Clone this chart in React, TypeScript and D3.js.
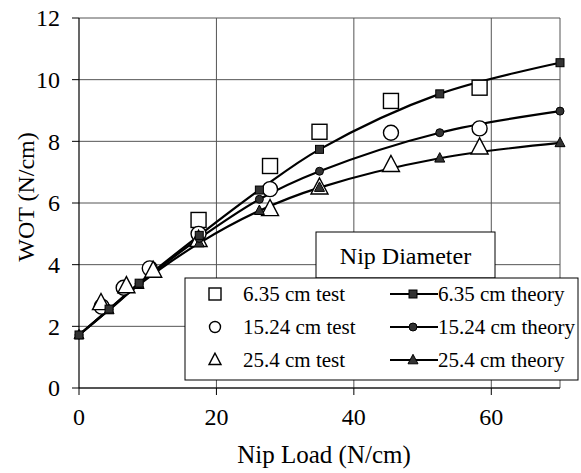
import * as d3 from 'd3';

const theoryX = [0, 4.375, 8.75, 17.5, 26.25, 35, 52.5, 70];
const theory635 = [1.72, 2.56, 3.4, 4.95, 6.42, 7.74, 9.54, 10.55];
const theory1524 = [1.72, 2.55, 3.38, 4.85, 6.12, 7.03, 8.28, 8.98];
const theory254 = [1.72, 2.53, 3.35, 4.7, 5.75, 6.5, 7.45, 7.95];

const test635X = [17.4, 27.8, 35, 45.4, 58.3];
const test635 = [5.45, 7.2, 8.31, 9.31, 9.74];
const test1524X = [3.3, 6.5, 10.3, 17.4, 27.8, 45.4, 58.3];
const test1524 = [2.64, 3.25, 3.88, 5.0, 6.45, 8.28, 8.42];
const test254X = [3.2, 6.9, 10.8, 17.4, 27.8, 35, 45.4, 58.3];
const test254 = [2.75, 3.3, 3.8, 4.8, 5.8, 6.5, 7.23, 7.8];

const xTicks = [0, 20, 40, 60];
const yTicks = [0, 2, 4, 6, 8, 10, 12];
const legendTest = ['6.35 cm test', '15.24 cm test', '25.4 cm test'];
const legendTheory = ['6.35 cm theory', '15.24 cm theory', '25.4 cm theory'];

const W = 581;
const H = 473;
const m = { left: 79, right: 21, top: 18, bottom: 85 };
const font = "'Liberation Serif', 'Times New Roman', Times, 'DejaVu Serif', serif";

const x = d3.scaleLinear().domain([0, 70]).range([m.left, W - m.right]);
const y = d3.scaleLinear().domain([0, 12]).range([H - m.bottom, m.top]);

type Shape = 'square' | 'circle' | 'triangle';

const Marker = ({ shape, cx, cy, size, filled }: { shape: Shape; cx: number; cy: number; size: number; filled: boolean }) => {
  const fill = filled ? '#333' : '#fff';
  const sw = filled ? 1 : 1.4;
  if (shape === 'square')
    return <rect x={cx - size / 2} y={cy - size / 2} width={size} height={size} fill={fill} stroke="#000" strokeWidth={sw} />;
  if (shape === 'circle') return <circle cx={cx} cy={cy} r={size / 2} fill={fill} stroke="#000" strokeWidth={sw} />;
  const h = size * 0.95;
  const pts = [
    [cx, cy - h * 0.6],
    [cx - size / 2, cy + h * 0.4],
    [cx + size / 2, cy + h * 0.4],
  ];
  return <polygon points={pts.map((p) => p.join(',')).join(' ')} fill={fill} stroke="#000" strokeWidth={sw} />;
};

export default function App() {
  const line = d3
    .line<[number, number]>()
    .x((d) => x(d[0]))
    .y((d) => y(d[1]))
    .curve(d3.curveCatmullRom.alpha(0.5));

  const theory: { vals: number[]; shape: Shape; size: number }[] = [
    { vals: theory254, shape: 'triangle', size: 10 },
    { vals: theory1524, shape: 'circle', size: 8 },
    { vals: theory635, shape: 'square', size: 8 },
  ];
  const tests: { xs: number[]; vals: number[]; shape: Shape; size: number }[] = [
    { xs: test635X, vals: test635, shape: 'square', size: 15 },
    { xs: test1524X, vals: test1524, shape: 'circle', size: 15 },
    { xs: test254X, vals: test254, shape: 'triangle', size: 17 },
  ];
  const shapes: Shape[] = ['square', 'circle', 'triangle'];
  const txt = { fontFamily: font };

  return (
    <svg width={W} height={H} style={{ position: 'absolute', left: 0, top: 0, background: '#fff', fontFamily: font }}>
      {/* grid */}
      {yTicks.map((t) => (
        <line key={'gy' + t} x1={x(0)} x2={x(70)} y1={y(t)} y2={y(t)} stroke="#555" strokeWidth={1} />
      ))}
      {[20, 40, 60, 70].map((t) => (
        <line key={'gx' + t} x1={x(t)} x2={x(t)} y1={y(0)} y2={y(12)} stroke="#555" strokeWidth={1} />
      ))}
      {/* axes */}
      <line x1={x(0)} x2={x(0)} y1={y(0)} y2={y(12)} stroke="#000" strokeWidth={1.2} />
      <line x1={x(0)} x2={x(70)} y1={y(0)} y2={y(0)} stroke="#000" strokeWidth={1.2} />
      {yTicks.map((t) => (
        <g key={'ty' + t}>
          <line x1={x(0) - 7} x2={x(0)} y1={y(t)} y2={y(t)} stroke="#000" />
          <text x={60} y={y(t)} dy="0.35em" textAnchor="end" fontSize={24} style={txt}>
            {t}
          </text>
        </g>
      ))}
      {xTicks.map((t) => (
        <g key={'tx' + t}>
          <line x1={x(t)} x2={x(t)} y1={y(0)} y2={y(0) + 7} stroke="#000" />
          <text x={x(t)} y={425} textAnchor="middle" fontSize={24} style={txt}>
            {t}
          </text>
        </g>
      ))}
      <text x={324} y={463} textAnchor="middle" fontSize={25} style={txt}>
        Nip Load (N/cm)
      </text>
      <text transform={`translate(34,${197}) rotate(-90)`} textAnchor="middle" fontSize={24} style={txt}>
        WOT (N/cm)
      </text>

      {/* theory lines */}
      {theory.map((s, i) => (
        <path key={'l' + i} d={line(theoryX.map((v, j) => [v, s.vals[j]]) as [number, number][]) || ''} fill="none" stroke="#000" strokeWidth={2.2} />
      ))}
      {/* test markers */}
      {tests.map((s, i) => (
        <g key={'t' + i}>
          {s.xs.map((v, j) => (
            <Marker key={j} shape={s.shape} cx={x(v)} cy={y(s.vals[j])} size={s.size} filled={false} />
          ))}
        </g>
      ))}
      {theory.map((s, i) => (
        <g key={'m' + i}>
          {theoryX.map((v, j) => (
            <Marker key={j} shape={s.shape} cx={x(v)} cy={y(s.vals[j])} size={s.size} filled />
          ))}
        </g>
      ))}

      {/* legend */}
      <rect x={316} y={232} width={179} height={46} fill="#fff" stroke="#000" strokeWidth={1} />
      <text x={405.5} y={264} textAnchor="middle" fontSize={24} style={txt}>
        Nip Diameter
      </text>
      <rect x={185} y={278} width={393} height={102} fill="#fff" stroke="#000" strokeWidth={1} />
      {legendTest.map((lbl, i) => {
        const ly = 294 + i * 33;
        const th = theory.find((t) => t.shape === shapes[i])!;
        return (
          <g key={'lg' + i}>
            <Marker shape={shapes[i]} cx={215} cy={ly} size={i === 1 ? 11 : 12} filled={false} />
            <text x={243} y={ly} dy="0.35em" fontSize={21} style={txt}>
              {lbl}
            </text>
            <line x1={390} x2={438} y1={ly} y2={ly} stroke="#000" strokeWidth={2.2} />
            <Marker shape={shapes[i]} cx={413} cy={ly} size={th.size} filled />
            <text x={438} y={ly} dy="0.35em" fontSize={21} style={txt}>
              {legendTheory[i]}
            </text>
          </g>
        );
      })}
    </svg>
  );
}
